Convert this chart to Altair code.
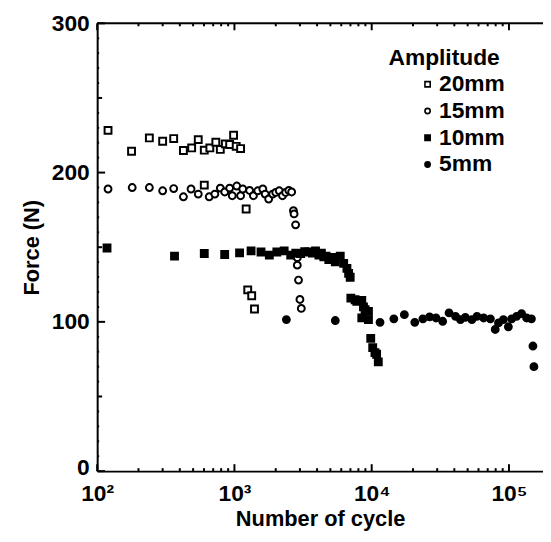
import altair as alt
import pandas as pd

# ---- data ----
amp_order = ["20mm", "15mm", "10mm", "5mm"]

cyc_20 = [120, 178, 240, 300, 361, 425, 488, 545, 603, 662, 732, 789, 858, 923, 986, 1030, 1109,
          603, 1217, 1250, 1336, 1400]
force_20 = [228.3, 214.3, 223.2, 221.0, 222.8, 214.8, 216.5, 222.1, 215.0, 216.5, 220.3, 215.5, 219.2, 218.8, 225.0, 217.6, 216.1,
            191.6, 175.6, 121.4, 117.5, 108.6]

cyc_15 = [120, 180, 240, 300, 361, 425, 483, 545, 655, 720, 789, 850, 923, 964, 1040, 1109, 1150, 1290, 1375,
          1480, 1610, 1675, 1776, 1900, 2000, 2120, 2240, 2360, 2490, 2610, 2690, 2720, 2790, 2870, 2870, 2930, 3000, 3070]
force_15 = [189, 190, 190, 187.8, 189.3, 183.8, 189, 185.6, 183.8, 185.6, 189.6, 187, 189.6, 184.5, 191, 184.5, 189, 188, 184.5,
            187.8, 189, 185.6, 182.3, 185.6, 186.7, 187.8, 184.5, 186.7, 188, 187, 174.5, 172.3, 165, 143, 138, 128, 115, 109]

cyc_10 = [118, 366, 603, 849, 1090, 1322, 1562, 1796, 2037, 2303, 2570, 2800, 3035, 3250, 3490, 3700, 3896, 4125, 4300,
          4480, 4650, 4870, 5140, 5430, 5900, 6250, 6600, 6790, 6970, 7050, 7570, 7790, 8470, 8710, 8950, 9470,
          8470, 9470, 9840, 10170, 10560, 10860, 11170]
force_10 = [149.5, 144, 145.8, 145.1, 146.2, 147.5, 146.8, 144.7, 146.8, 147.5, 144.7, 146, 145.8, 147, 146.8, 146, 147.5, 144.7, 146,
            143.5, 144, 141.8, 143.1, 140.2, 144.0, 139.2, 135.8, 132.5, 129.9, 115.9, 114.8, 113.7, 114.3, 110.0, 108.2, 107.0,
            102.7, 101.5, 88.9, 82.7, 79.4, 78.3, 73.2]

cyc_5 = [2390, 5430, 11500, 14500, 17300, 20600, 23600, 26400, 29400, 32900, 36600, 40800, 44300, 48100, 53700,
         58500, 65400, 73200, 79400, 83900, 91100, 99000, 104600, 113700, 123600, 134500, 145800, 149500, 152000]
force_5 = [101.5, 100.9, 99.7, 102, 104.8, 99.7, 102, 103.3, 102.6, 100.4, 106, 103.7, 101.5, 103, 101.5,
           103.7, 102.6, 102, 94.9, 99.3, 101.5, 96.7, 102, 103.7, 105.5, 102.6, 102, 83.8, 70]

x_major = [100, 1000, 10000, 100000]
x_labels = ["10²", "10³", "10⁴", "10⁵"]
x_minor = [d * 10 ** k for k in range(2, 6) for d in range(2, 10) if d * 10 ** k <= 170000]
y_major = [0, 100, 200, 300]
y_mid = [50, 150, 250]
y_minor = [v for v in range(0, 301, 10) if v % 50]

# ---- build tables ----
rows = []
for amp, cs, fs in [("20mm", cyc_20, force_20), ("15mm", cyc_15, force_15),
                    ("10mm", cyc_10, force_10), ("5mm", cyc_5, force_5)]:
    for c, f in zip(cs, fs):
        rows.append({"cycle": c, "force": f, "amp": amp})
df = pd.DataFrame(rows)

W, H = 450, 452
FONT = "Liberation Sans"
xscale = alt.Scale(type="log", domain=[100, 177000], nice=False)
yscale = alt.Scale(domain=[0, 300], nice=False)

label_map = "{" + ", ".join(f"'{v}': '{l}'" for v, l in zip(x_major, x_labels)) + "}"

legend = alt.Legend(
    title="Amplitude", orient="none", legendX=294, legendY=24,
    titleFont=FONT, titleFontSize=23, titleFontWeight="bold", titleColor="black",
    labelFont=FONT, labelFontSize=23, labelFontWeight="bold", labelColor="black",
    symbolSize=28, symbolStrokeWidth=1.6, symbolStrokeColor="black",
    symbolOffset=28, labelOffset=0, rowPadding=3, titlePadding=3, padding=0,
)

points = alt.Chart(df).mark_point(size=48, strokeWidth=2, opacity=1).encode(
    x=alt.X("cycle:Q", scale=xscale, title="Number of cycle",
            axis=alt.Axis(values=x_major, labelExpr=f"{label_map}[datum.value]", ticks=False, tickSize=0,
                          labelFlush=False, grid=False, domainColor="black", domainWidth=2, labelFont=FONT,
                          labelFontSize=23, labelFontWeight="bold", labelColor="black", labelPadding=12,
                          titleFont=FONT, titleFontSize=22, titleFontWeight="bold", titleColor="black",
                          titlePadding=3)),
    y=alt.Y("force:Q", scale=yscale, title="Force (N)",
            axis=alt.Axis(values=y_major, ticks=False, tickSize=0, grid=False, domainColor="black", domainWidth=2,
                          labelFont=FONT, labelFontSize=23, labelFontWeight="bold", labelColor="black",
                          labelPadding=8, labelOffset=alt.condition("datum.value == 0", alt.value(-4), alt.value(0)),
                          titleFont=FONT, titleFontSize=22, titleFontWeight="bold",
                          titleColor="black", titlePadding=8)),
    shape=alt.Shape("amp:N", scale=alt.Scale(domain=amp_order, range=["square", "circle", "square", "circle"]),
                    legend=legend),
    fill=alt.Fill("amp:N", scale=alt.Scale(domain=amp_order, range=["white", "white", "black", "black"]),
                  legend=legend),
    stroke=alt.Stroke("amp:N", scale=alt.Scale(domain=amp_order, range=["black", "black", "black", "black"]),
                      legend=legend),
)


def xticks(vals, y0, y1):
    return alt.Chart(pd.DataFrame({"v": vals})).mark_rule(color="black", strokeWidth=2).encode(
        x=alt.X("v:Q", scale=xscale), y=alt.value(y0), y2=alt.value(y1))


def yticks(vals, length):
    return alt.Chart(pd.DataFrame({"v": vals})).mark_rule(color="black", strokeWidth=2).encode(
        y=alt.Y("v:Q", scale=yscale), x=alt.value(0), x2=alt.value(length))


top_line = alt.Chart(pd.DataFrame({"v": [0]})).mark_rule(color="black", strokeWidth=2).encode(
    x=alt.value(0), x2=alt.value(W), y=alt.value(0))

chart = alt.layer(
    top_line,
    xticks(x_major, H, H - 7), xticks(x_minor, H, H - 3),
    xticks(x_major, 0, 7), xticks(x_minor, 0, 3),
    yticks(y_major, 8), yticks(y_mid, 5), yticks(y_minor, 2),
    points,
).properties(
    width=W, height=H,
    autosize=alt.AutoSizeParams(type="none"),
    padding={"left": 90, "top": 13, "right": 0, "bottom": 60},
).configure_view(stroke=None).configure(background="white")

chart.save("out.html", embed_options={"renderer": "svg", "actions": False})
